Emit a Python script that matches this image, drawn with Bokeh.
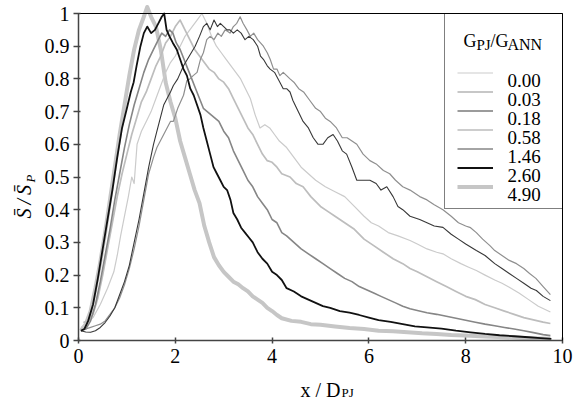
import math
from bokeh.plotting import figure
from bokeh.models import (Legend, LegendItem, Label, FixedTicker, Range1d,
                          CustomJSTickFormatter, LinearAxis)
from bokeh.embed import file_html
from bokeh.resources import INLINE

# ---------------- data ----------------
x_ticks = [0, 2, 4, 6, 8, 10]
y_ticks = [0, 0.1, 0.2, 0.3, 0.4, 0.5, 0.6, 0.7, 0.8, 0.9, 1]
series_labels = ["0.00", "0.03", "0.18", "0.58", "1.46", "2.60", "4.90"]

x_000 = [0.05,0.15,0.3,0.45,0.6,0.73,0.8,0.87,0.95,1.03,1.1,1.15,1.21,1.3,1.4,1.5,1.6,1.7,1.8,1.9,2.0,2.1,2.2,2.3,2.45,2.55,2.65,2.75,2.85,2.95,3.05,3.15,3.25,3.35,3.45,3.55,3.65,3.75,3.85,3.95,4.05,4.15,4.3,4.45,4.6,4.75,4.9,5.1,5.3,5.5,5.7,5.9,6.05,6.2,6.4,6.6,6.85,7.0,7.2,7.4,7.53,7.7,7.9,8.05,8.22,8.4,8.6,8.75,8.9,9.1,9.3,9.5,9.75]
y_000 = [0.04,0.05,0.07,0.11,0.16,0.21,0.26,0.32,0.38,0.44,0.50,0.48,0.60,0.64,0.67,0.70,0.74,0.78,0.82,0.85,0.87,0.90,0.93,0.95,0.98,1.0,0.97,0.93,0.90,0.88,0.86,0.84,0.82,0.80,0.77,0.74,0.69,0.65,0.66,0.65,0.63,0.61,0.59,0.56,0.53,0.51,0.49,0.47,0.455,0.44,0.41,0.38,0.36,0.35,0.33,0.32,0.306,0.295,0.28,0.27,0.265,0.25,0.235,0.225,0.214,0.2,0.185,0.175,0.163,0.145,0.125,0.105,0.087]

x_003 = [0.05,0.15,0.25,0.35,0.45,0.55,0.65,0.75,0.85,0.95,1.05,1.15,1.25,1.35,1.45,1.55,1.62,1.69,1.76,1.83,1.9,1.96,2.05,2.17,2.24,2.3,2.37,2.45,2.52,2.58,2.65,2.72,2.8,2.88,2.95,3.03,3.13,3.2,3.27,3.34,3.4,3.48,3.55,3.62,3.7,3.76,3.82,3.9,3.96,4.03,4.1,4.16,4.23,4.3,4.37,4.45,4.55,4.65,4.78,4.9,5.0,5.1,5.2,5.33,5.45,5.55,5.65,5.75,5.88,6.02,6.15,6.3,6.43,6.55,6.7,6.85,7.05,7.2,7.35,7.53,7.7,7.85,8.0,8.1,8.22,8.35,8.5,8.6,8.75,8.9,9.05,9.2,9.32,9.45,9.6,9.75]
y_003 = [0.03,0.035,0.04,0.045,0.05,0.06,0.08,0.10,0.13,0.17,0.22,0.28,0.35,0.43,0.51,0.56,0.59,0.61,0.63,0.65,0.67,0.67,0.71,0.75,0.795,0.80,0.81,0.82,0.86,0.88,0.92,0.93,0.92,0.94,0.93,0.95,0.94,0.96,0.97,0.99,0.97,0.95,0.93,0.94,0.92,0.91,0.90,0.88,0.86,0.83,0.83,0.81,0.82,0.81,0.80,0.79,0.77,0.76,0.734,0.71,0.70,0.68,0.67,0.65,0.62,0.62,0.61,0.60,0.57,0.55,0.54,0.52,0.51,0.49,0.47,0.46,0.44,0.43,0.415,0.40,0.38,0.36,0.35,0.345,0.33,0.31,0.29,0.275,0.26,0.245,0.235,0.22,0.205,0.19,0.165,0.14]

x_018 = [0.05,0.15,0.25,0.35,0.45,0.55,0.65,0.75,0.85,0.95,1.05,1.15,1.25,1.35,1.45,1.55,1.62,1.69,1.76,1.83,1.9,1.96,2.05,2.17,2.25,2.33,2.41,2.5,2.58,2.65,2.72,2.8,2.87,2.93,3.0,3.07,3.13,3.2,3.28,3.36,3.44,3.52,3.61,3.7,3.76,3.82,3.9,3.96,4.05,4.16,4.23,4.3,4.37,4.43,4.54,4.64,4.75,4.85,4.95,5.05,5.15,5.26,5.35,5.45,5.54,5.65,5.75,5.88,6.02,6.15,6.25,6.37,6.5,6.6,6.7,6.85,7.05,7.2,7.35,7.53,7.7,7.85,8.0,8.22,8.4,8.6,8.75,8.9,9.05,9.2,9.35,9.46,9.6,9.75]
y_018 = [0.03,0.026,0.025,0.03,0.04,0.055,0.075,0.10,0.14,0.18,0.23,0.30,0.37,0.45,0.53,0.60,0.64,0.68,0.72,0.74,0.76,0.78,0.80,0.84,0.86,0.88,0.90,0.93,0.96,0.97,0.95,0.98,0.96,0.97,0.96,0.95,0.95,0.94,0.95,0.94,0.92,0.93,0.92,0.90,0.87,0.86,0.84,0.83,0.82,0.79,0.77,0.77,0.76,0.734,0.70,0.67,0.65,0.62,0.60,0.60,0.62,0.63,0.61,0.58,0.57,0.53,0.49,0.49,0.49,0.48,0.46,0.47,0.44,0.41,0.40,0.38,0.37,0.36,0.35,0.346,0.325,0.31,0.295,0.275,0.26,0.235,0.22,0.205,0.19,0.175,0.16,0.153,0.135,0.122]

x_058 = [0.1,0.2,0.3,0.4,0.5,0.6,0.7,0.8,0.9,1.0,1.1,1.2,1.3,1.4,1.5,1.6,1.7,1.8,1.9,2.0,2.1,2.2,2.3,2.4,2.5,2.6,2.7,2.8,2.9,3.0,3.1,3.2,3.3,3.4,3.5,3.6,3.7,3.8,3.9,4.0,4.1,4.2,4.37,4.5,4.64,4.8,5.0,5.15,5.3,5.5,5.7,5.9,6.1,6.3,6.5,6.7,6.85,7.0,7.2,7.4,7.6,7.8,8.0,8.2,8.4,8.6,8.8,9.0,9.2,9.4,9.6,9.75]
y_058 = [0.055,0.06,0.08,0.13,0.2,0.28,0.36,0.44,0.51,0.57,0.63,0.68,0.73,0.76,0.80,0.84,0.87,0.91,0.93,0.96,0.98,0.95,0.92,0.89,0.87,0.85,0.83,0.82,0.80,0.79,0.77,0.74,0.71,0.68,0.65,0.63,0.60,0.57,0.55,0.545,0.53,0.51,0.50,0.48,0.47,0.44,0.41,0.395,0.38,0.36,0.34,0.31,0.29,0.27,0.25,0.235,0.22,0.21,0.195,0.18,0.165,0.15,0.135,0.125,0.11,0.10,0.09,0.08,0.07,0.063,0.056,0.052]

x_146 = [0.05,0.15,0.25,0.35,0.45,0.55,0.65,0.75,0.85,0.95,1.05,1.15,1.25,1.35,1.45,1.55,1.65,1.72,1.8,1.88,1.95,2.02,2.1,2.18,2.26,2.34,2.42,2.5,2.58,2.66,2.74,2.82,2.9,3.0,3.1,3.2,3.3,3.4,3.5,3.6,3.7,3.8,3.9,4.0,4.1,4.2,4.3,4.45,4.6,4.75,4.9,5.05,5.2,5.35,5.5,5.65,5.8,5.95,6.1,6.25,6.4,6.55,6.7,6.85,7.0,7.2,7.4,7.6,7.8,8.0,8.2,8.4,8.6,8.8,9.0,9.2,9.4,9.6,9.75]
y_146 = [0.03,0.035,0.06,0.11,0.18,0.26,0.34,0.43,0.51,0.59,0.66,0.72,0.77,0.82,0.86,0.89,0.92,0.94,0.93,0.95,0.94,0.91,0.89,0.86,0.83,0.80,0.77,0.74,0.71,0.70,0.69,0.68,0.67,0.64,0.62,0.58,0.55,0.52,0.49,0.47,0.44,0.42,0.40,0.37,0.36,0.33,0.32,0.30,0.28,0.265,0.25,0.235,0.22,0.205,0.19,0.18,0.165,0.155,0.145,0.135,0.125,0.115,0.105,0.097,0.092,0.085,0.08,0.074,0.068,0.062,0.056,0.05,0.045,0.04,0.035,0.03,0.024,0.018,0.015]

x_260 = [0.05,0.12,0.2,0.3,0.4,0.5,0.6,0.7,0.8,0.9,1.0,1.08,1.14,1.2,1.28,1.35,1.42,1.5,1.58,1.65,1.72,1.77,1.82,1.88,1.95,2.03,2.1,2.17,2.24,2.31,2.38,2.45,2.52,2.58,2.65,2.72,2.79,2.86,2.93,3.0,3.07,3.14,3.2,3.28,3.36,3.44,3.52,3.6,3.7,3.8,3.9,4.0,4.1,4.2,4.3,4.45,4.6,4.75,4.9,5.05,5.2,5.4,5.6,5.8,6.0,6.2,6.45,6.7,6.95,7.2,7.5,7.8,8.1,8.4,8.7,9.0,9.3,9.55,9.77]
y_260 = [0.03,0.035,0.06,0.11,0.19,0.28,0.37,0.46,0.56,0.65,0.71,0.76,0.79,0.84,0.90,0.94,0.96,0.94,0.95,0.97,0.99,1.0,0.95,0.93,0.91,0.89,0.86,0.83,0.81,0.77,0.75,0.72,0.69,0.65,0.61,0.57,0.53,0.51,0.49,0.47,0.46,0.43,0.39,0.37,0.345,0.33,0.315,0.30,0.27,0.25,0.235,0.21,0.20,0.185,0.16,0.15,0.135,0.125,0.115,0.105,0.1,0.09,0.085,0.078,0.07,0.062,0.057,0.05,0.043,0.04,0.036,0.03,0.025,0.02,0.016,0.013,0.01,0.007,0.005]

x_490 = [0.05,0.15,0.25,0.35,0.45,0.55,0.65,0.75,0.85,0.95,1.05,1.15,1.25,1.35,1.42,1.5,1.6,1.7,1.8,1.9,2.0,2.1,2.2,2.3,2.4,2.5,2.6,2.7,2.8,2.9,3.0,3.1,3.2,3.3,3.4,3.5,3.6,3.7,3.8,3.9,4.0,4.1,4.2,4.4,4.6,4.8,5.0,5.3,5.6,5.9,6.2,6.5,6.8,7.1,7.4,7.7,8.0,8.4,8.8,9.2,9.5,9.75]
y_490 = [0.03,0.05,0.09,0.16,0.24,0.33,0.43,0.53,0.63,0.72,0.81,0.89,0.95,0.99,1.02,0.99,0.96,0.89,0.79,0.73,0.68,0.61,0.56,0.51,0.46,0.42,0.35,0.30,0.255,0.23,0.21,0.195,0.18,0.172,0.16,0.15,0.135,0.125,0.115,0.10,0.09,0.078,0.068,0.06,0.057,0.05,0.048,0.043,0.038,0.035,0.03,0.028,0.025,0.022,0.02,0.017,0.015,0.012,0.01,0.008,0.006,0.005]

series_x = [x_000, x_003, x_018, x_058, x_146, x_260, x_490]
series_y = [y_000, y_003, y_018, y_058, y_146, y_260, y_490]

# ---------------- styles / layout ----------------
colors = ["#cbcbcb", "#8f8f8f", "#383838", "#bdbdbd", "#868686", "#111111", "#c6c6c6"]
widths = [1.2, 1.2, 1.1, 1.7, 1.6, 1.8, 4.0]
draw_order = [6, 0, 3, 4, 1, 2, 5]
SERIF = "Liberation Serif"
W, H = 573, 403
TOP = 3                      # frame top (px)
X0_PX, X10_PX = 78, 562      # where x=0 and x=10 fall on the canvas
Y0_PX, Y1_PX = 340, 13       # where y=0 and y=1 fall on the canvas
sx = (X10_PX - X0_PX) / 10.0
sy = (Y0_PX - Y1_PX) / 1.0
x_range = Range1d(-X0_PX / sx, 10 + (W - X10_PX) / sx)
y_range = Range1d(-(H - Y0_PX) / sy, 1 + (Y1_PX - TOP) / sy)

p = figure(width=W, height=H, output_backend="svg", toolbar_location=None,
           x_range=x_range, y_range=y_range,
           min_border_left=0, min_border_right=0, min_border_top=TOP,
           min_border_bottom=0)
p.grid.visible = False
p.outline_line_color = None
p.background_fill_color = "white"
p.border_fill_color = "white"

for ax in (p.xaxis[0], p.yaxis[0]):
    ax.fixed_location = 0
    ax.axis_line_color = "#444444"
    ax.axis_line_width = 1.5
    ax.major_tick_line_color = "#444444"
    ax.major_tick_line_width = 1.5
    ax.minor_tick_line_color = None
    ax.major_label_text_font = SERIF
    ax.major_label_text_font_size = "20px"
    ax.major_label_text_color = "black"

p.xaxis.bounds = (0, 10)
p.yaxis.bounds = (0, 1)
p.xaxis.ticker = FixedTicker(ticks=x_ticks)
p.yaxis.ticker = FixedTicker(ticks=y_ticks)
p.yaxis.formatter = CustomJSTickFormatter(code="return String(tick);")
p.xaxis.major_tick_in = 3
p.xaxis.major_tick_out = 3
p.xaxis.major_label_standoff = 5
p.yaxis.major_tick_in = 2
p.yaxis.major_tick_out = 5
p.yaxis.major_label_standoff = 4

# top and right frame lines as plain axes without ticks
top_ax = LinearAxis(fixed_location=1, bounds=(0, 10), ticker=FixedTicker(ticks=[]),
                    axis_line_color="black", axis_line_width=1,
                    major_tick_line_color=None, minor_tick_line_color=None)
right_ax = LinearAxis(fixed_location=10, bounds=(0, 1), ticker=FixedTicker(ticks=[]),
                      axis_line_color="black", axis_line_width=1,
                      major_tick_line_color=None, minor_tick_line_color=None)
p.add_layout(top_ax, "above")
p.add_layout(right_ax, "right")

renderers = [None] * 7
for i in draw_order:
    n = min(len(series_x[i]), len(series_y[i]))
    renderers[i] = p.line(series_x[i][:n], series_y[i][:n], line_color=colors[i],
                          line_width=widths[i], line_join="round")

# legend box with the sample lines; its texts are drawn as labels below
ROW = 19
items = [LegendItem(label=" ", renderers=[renderers[i]]) for i in range(7)]
legend = Legend(items=items, location="top_right", margin=10, padding=12,
                spacing=0, glyph_width=36, glyph_height=ROW, label_height=ROW,
                label_width=43, label_standoff=14,
                label_text_font=SERIF, label_text_font_size="1px",
                border_line_color="black", border_line_width=1,
                background_fill_alpha=0.0,
                title=" ", title_text_font_size="18px", title_standoff=16)
p.add_layout(legend)

def lab(px, py, text, size, **kw):
    # px, py: canvas pixel position (from top-left) of the text anchor
    p.add_layout(Label(x=px, y=H - py, x_units="screen", y_units="screen", text=text,
                       text_font=SERIF, text_font_size=size, text_color="black",
                       text_align="left", text_baseline="alphabetic",
                       level="overlay", **kw))

# legend title G_PJ / G_ANN
lab(463, 40, "G", "18px")
lab(476, 44, "PJ", "15px")
lab(490, 40, "/G", "18px")
lab(507, 44, "ANN", "16px")

# legend entry texts
for i, t in enumerate(series_labels):
    lab(507, 80 + ROW * i, t, "19px")

# x axis label
lab(300, 389, "x / D", "20px")
lab(341, 392, "PJ", "13px")

# y axis label
lab(23, 218, "S\u0304\u2009/\u2009S\u0304", "20px", angle=math.pi / 2, text_font_style="italic")
lab(30, 182, "P", "13px", angle=math.pi / 2, text_font_style="italic")

open("out.html", "w").write(file_html(p, INLINE))
